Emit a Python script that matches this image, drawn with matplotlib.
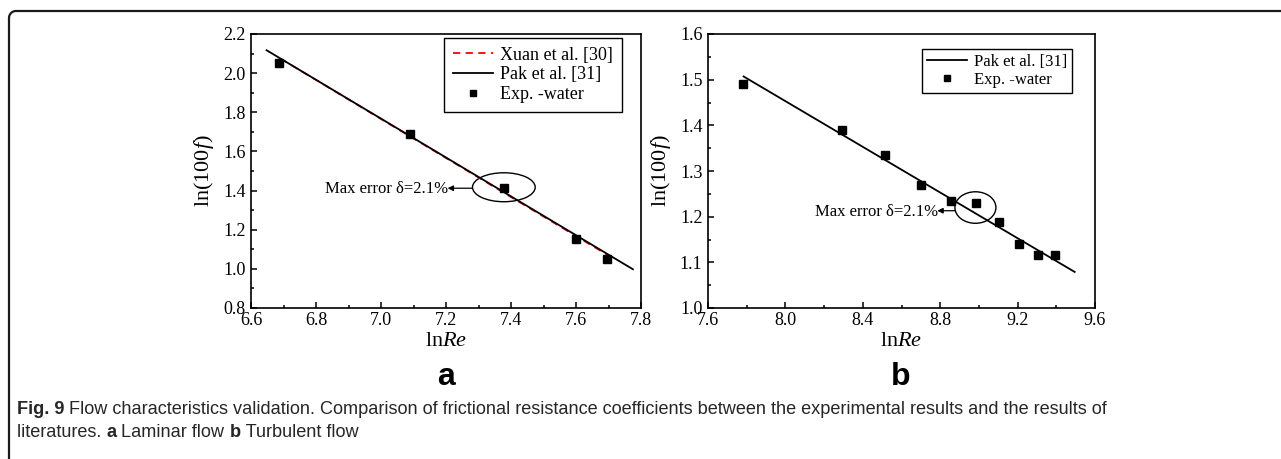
import numpy as np
import matplotlib
matplotlib.use("Agg")
import matplotlib.pyplot as plt
from matplotlib.patches import Ellipse
from matplotlib.lines import Line2D
from matplotlib.ticker import MultipleLocator, FormatStrFormatter

# --- data ---
# (a) laminar flow
lam_exp_x = [6.687, 7.090, 7.377, 7.600, 7.695]
lam_exp_y = [2.054, 1.689, 1.414, 1.152, 1.049]
lam_xuan_x = [6.69, 7.70]
lam_xuan_y = [2.075, 1.068]
lam_pak_x = [6.648, 7.775]
lam_pak_y = [2.117, 0.998]

# (b) turbulent flow
tur_exp_x = [7.781, 8.291, 8.517, 8.699, 8.854, 8.986, 9.103, 9.208, 9.305, 9.392]
tur_exp_y = [1.491, 1.390, 1.334, 1.269, 1.235, 1.231, 1.188, 1.140, 1.117, 1.115]
tur_pak_x = [7.784, 9.495]
tur_pak_y = [1.507, 1.079]

serif = "Liberation Serif"
plt.rcParams["font.family"] = serif
plt.rcParams["mathtext.fontset"] = "custom"
plt.rcParams["mathtext.rm"] = serif
plt.rcParams["mathtext.it"] = serif + ":italic"

W, H = 1281, 459
fig = plt.figure(figsize=(W / 100, H / 100), dpi=100)

ax1 = fig.add_axes([251 / W, 1 - 308 / H, 390 / W, 274 / H])
ax2 = fig.add_axes([708 / W, 1 - 308 / H, 387 / W, 274 / H])


def style_axes(ax, xlim, ylim, xmaj, ymaj):
    ax.set_xlim(*xlim)
    ax.set_ylim(*ylim)
    ax.xaxis.set_major_locator(MultipleLocator(xmaj))
    ax.xaxis.set_minor_locator(MultipleLocator(xmaj / 2))
    ax.yaxis.set_major_locator(MultipleLocator(ymaj))
    ax.yaxis.set_minor_locator(MultipleLocator(ymaj / 2))
    ax.xaxis.set_major_formatter(FormatStrFormatter("%.1f"))
    ax.yaxis.set_major_formatter(FormatStrFormatter("%.1f"))
    ax.tick_params(which="both", direction="in", top=False, right=False,
                   labelsize=13, width=1.1)
    ax.tick_params(axis="x", pad=3)
    ax.tick_params(axis="y", pad=4)
    ax.tick_params(which="major", length=4.5)
    ax.tick_params(which="minor", length=2.5)
    for s in ax.spines.values():
        s.set_linewidth(1.2)
    ax.set_xlabel(r"ln$\it{Re}$", fontsize=16, labelpad=2)
    ax.set_ylabel(r"ln(100$\it{f}$)", fontsize=16, labelpad=5)


style_axes(ax1, (6.6, 7.8), (0.8, 2.2), 0.2, 0.2)
style_axes(ax2, (7.6, 9.6), (1.0, 1.6), 0.4, 0.1)

# panel a
ax1.plot(lam_xuan_x, lam_xuan_y, color="red", ls=(0, (4, 3)), lw=1.3, label="Xuan et al. [30]")
ax1.plot(lam_pak_x, lam_pak_y, color="black", lw=1.3, label="Pak et al. [31]")
ax1.plot(lam_exp_x, lam_exp_y, ls="none", marker="s", ms=5.2, color="black", label="Exp. -water")
leg1 = ax1.legend(loc="upper right", bbox_to_anchor=(0.952, 0.987), fontsize=13, fancybox=False,
                  edgecolor="black", framealpha=1, handlelength=2.2, borderpad=0.5,
                  labelspacing=0.15, handletextpad=0.4, borderaxespad=0)
leg1.get_frame().set_linewidth(1.0)
leg1.legend_handles[2].set_markersize(4)

ax1.add_patch(Ellipse((7.378, 1.417), 0.193, 0.148, fill=False, lw=1.0, color="black"))
ax1.annotate("", xy=(7.205, 1.412), xytext=(7.281, 1.412),
             arrowprops=dict(arrowstyle="-|>", color="black", lw=0.9, mutation_scale=8,
                             shrinkA=0, shrinkB=0))
ax1.text(7.207, 1.410, "Max error δ=2.1%", ha="right", va="center", fontsize=12)

# panel b
ax2.plot(tur_pak_x, tur_pak_y, color="black", lw=1.3, label="Pak et al. [31]")
ax2.plot(tur_exp_x, tur_exp_y, ls="none", marker="s", ms=5.2, color="black", label="Exp. -water")
leg2 = ax2.legend(loc="upper right", bbox_to_anchor=(0.94, 0.947), fontsize=12, fancybox=False,
                  edgecolor="black", framealpha=1, handlelength=2.4, borderpad=0.3,
                  labelspacing=0.15, handletextpad=0.4, borderaxespad=0)
leg2.get_frame().set_linewidth(1.0)
leg2.legend_handles[1].set_markersize(4)

ax2.add_patch(Ellipse((8.982, 1.220), 0.212, 0.069, fill=False, lw=1.0, color="black"))
ax2.annotate("", xy=(8.785, 1.213), xytext=(8.876, 1.213),
             arrowprops=dict(arrowstyle="-|>", color="black", lw=0.9, mutation_scale=8,
                             shrinkA=0, shrinkB=0))
ax2.text(8.787, 1.210, "Max error δ=2.1%", ha="right", va="center", fontsize=12)

# panel letters
fig.text(446 / W, 1 - 377 / H, "a", ha="center", va="center", fontsize=23,
         fontweight="bold", family="Liberation Sans")
fig.text(901 / W, 1 - 377 / H, "b", ha="center", va="center", fontsize=23,
         fontweight="bold", family="Liberation Sans")

# frame: top and left edge with a small rounded corner
r = 7
t = np.linspace(np.pi, np.pi / 2, 20)
fx = np.concatenate([[9, 9], 9 + r + r * np.cos(t), [W + 5]])
fy = np.concatenate([[H + 5, 11 + r], 11 + r - r * np.sin(t), [11]])
fig.add_artist(Line2D(fx / W, 1 - fy / H, transform=fig.transFigure, color="#1a1a1a", lw=1.6))

# caption, bold and regular pieces side by side
cap_font = ["Liberation Sans", "DejaVu Sans"]
renderer = fig.canvas.get_renderer()


def run_text(x_px, y_px, pieces):
    x = x_px
    for txt, bold in pieces:
        tx = fig.text(x / W, 1 - y_px / H, txt, fontsize=13.1, family=cap_font,
                      fontweight="bold" if bold else "normal", va="baseline", ha="left",
                      color="#262626")
        x += tx.get_window_extent(renderer=renderer).width


run_text(17, 414, [("Fig. 9", True),
                   (" Flow characteristics validation. Comparison of frictional resistance coefficients "
                    "between the experimental results and the results of", False)])
run_text(17, 437, [("literatures. ", False), ("a", True), (" Laminar flow ", False),
                   ("b", True), (" Turbulent flow", False)])

fig.savefig("out.png", dpi=100)
